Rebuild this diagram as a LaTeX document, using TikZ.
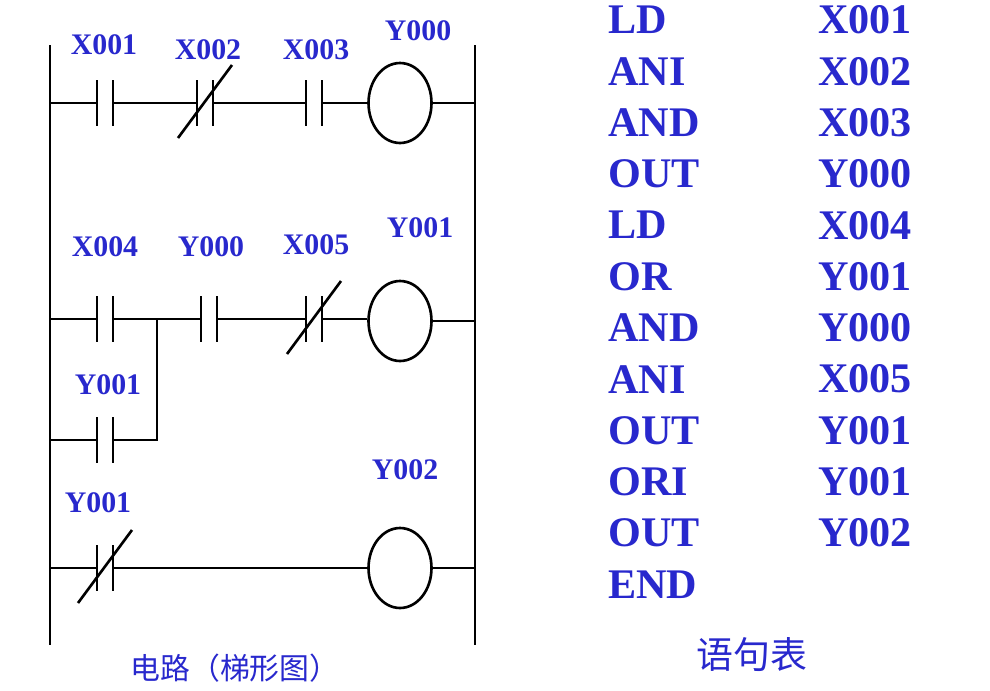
\documentclass[tikz,border=0pt]{standalone}
\usepackage{fontspec}
\setmainfont{Liberation Serif}
\newfontfamily\cjk{Noto Sans CJK SC}
\definecolor{plcblue}{RGB}{40,40,205}
\tikzset{
  wire/.style={line width=1.5pt},
  lbl/.style={text=plcblue,font=\bfseries\fontsize{17}{17}\selectfont,inner sep=0pt},
  stmt/.style={text=plcblue,font=\bfseries\fontsize{24}{24}\selectfont,inner sep=0pt,anchor=west},
  coil/.style={draw,ellipse,line width=1.5pt,minimum width=1.26cm,minimum height=1.6cm,inner sep=0pt}
}
% contact: name, x, y (bars only)
\newcommand\mkcontact[3]{%
  \coordinate (#1l) at (#2-8,#3);
  \coordinate (#1r) at (#2+8,#3);
  \draw[wire] (#2-8,#3-23) -- (#2-8,#3+23) (#2+8,#3-23) -- (#2+8,#3+23);}
\newcommand\mkslash[2]{\draw[wire] (#1-27,#2+35) -- (#1+27,#2-38);}
\begin{document}
\begin{tikzpicture}[x=0.02cm,y=-0.02cm]
\useasboundingbox (0,0) rectangle (990,690);
\usetikzlibrary{shapes.geometric}
% rails
\draw[wire] (50,45) -- (50,645);
\draw[wire] (475,45) -- (475,645);
% rung 1
\mkcontact{a}{105}{103}
\mkcontact{b}{205}{103}\mkslash{205}{103}
\mkcontact{c}{314}{103}
\node[coil] (K0) at (400,103) {};
\draw[wire] (50,103) -- (al) (ar) -- (bl) (br) -- (cl) (cr) -- (K0.west) (K0.east) -- (475,103);
\node[lbl] (L1) at (104,45) {X001};
\node[lbl] (L2) at (208,50) {X002};
\node[lbl] (L3) at (316,50) {X003};
\node[lbl] (L4) at (418,31) {Y000};
% rung 2
\mkcontact{d}{105}{319}
\mkcontact{e}{209}{319}
\mkcontact{f}{314}{319}\mkslash{314}{319}
\node[coil] (K1) at (400,321) {};
\coordinate (J) at (157,319);
\draw[wire] (50,319) -- (dl) (dr) -- (J) -- (el) (er) -- (fl) (fr) -- (K1.west |- fr) (K1.east) -- (475,321);
\mkcontact{g}{105}{440}
\draw[wire] (50,440) -- (gl) (gr) -- (157,440) -- (J);
\node[lbl] (L5) at (105,247) {X004};
\node[lbl] (L6) at (211,247) {Y000};
\node[lbl] (L7) at (316,245) {X005};
\node[lbl] (L8) at (420,228) {Y001};
\node[lbl] (L9) at (108,385) {Y001};
% rung 3
\mkcontact{h}{105}{568}\mkslash{105}{568}
\node[coil] (K2) at (400,568) {};
\draw[wire] (50,568) -- (hl) (hr) -- (K2.west) (K2.east) -- (475,568);
\node[lbl] (L10) at (98,503) {Y001};
\node[lbl] (L11) at (405,470) {Y002};
% captions
\node[text=plcblue,font=\cjk\fontsize{17}{17}\selectfont] (C1) at (235,668) {电路（梯形图）};
\node[text=plcblue,font=\cjk\fontsize{21}{21}\selectfont] (C2) at (752,655) {语句表};
% statement list
\foreach \op/\arg [count=\i from 0] in {LD/X001,ANI/X002,AND/X003,OUT/Y000,LD/X004,OR/Y001,AND/Y000,ANI/X005,OUT/Y001,ORI/Y001,OUT/Y002,END/{}}{
  \node[stmt] (op\i) at (608,20+51.3*\i) {\op};
  \node[stmt] (arg\i) at (818,20+51.3*\i) {\arg};
}
\end{tikzpicture}
\end{document}
